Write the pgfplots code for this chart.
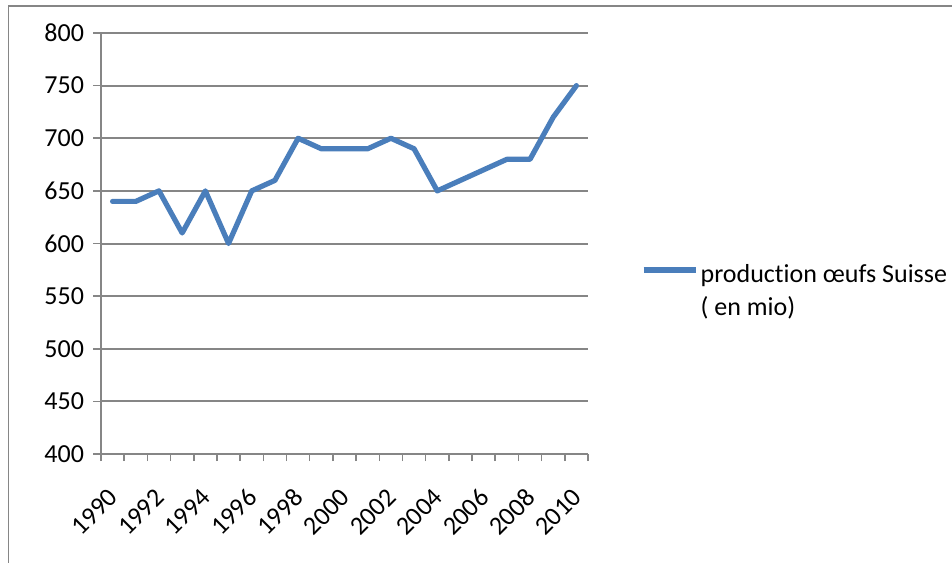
\documentclass[border=0pt]{standalone}
\usepackage{fontspec}
\setmainfont{Carlito}[Ligatures=NoCommon]
\usepackage{pgfplots}
\pgfplotsset{compat=1.18}
\definecolor{linebl}{HTML}{4A7EBB}
\definecolor{gridg}{HTML}{868686}
\begin{document}
\fontsize{13}{16.5}\selectfont
\begin{tikzpicture}
\path[use as bounding box] (0,0) rectangle (476pt,281pt);
\draw[gridg, line width=0.75pt] (4.25pt,-2pt) -- (4.25pt,278pt) -- (480pt,278pt);
\begin{axis}[
  at={(50.5pt,54pt)}, anchor=south west,
  scale only axis, width=243.5pt, height=210.5pt,
  xmin=1989.5, xmax=2010.5, ymin=400, ymax=800,
  axis x line=bottom, axis y line=left,
  axis line style={-, gridg, line width=1pt},
  ytick={400,450,...,800},
  xtick={1990,1992,...,2010},
  minor xtick={1989.5,1990.5,...,2010.5},
  ymajorgrids, grid style={gridg, line width=1pt},
  tick style={gridg, line width=0.75pt},
  major x tick style={draw=none},
  major tick length=4pt, minor tick length=3.5pt, tick align=outside,
  xticklabel style={xshift=3.5pt, yshift=-12.5pt, rotate=45, anchor=east},
  /pgf/number format/1000 sep={}, /pgf/number format/assume math mode=true,
  ticklabel style={font=\fontsize{13}{15}\selectfont, text=black},
  legend style={draw=none, fill=none, inner sep=0pt, at={(1.1078,0.385)}, anchor=west,
    nodes={inner sep=1.25pt},
    cells={align=left, anchor=west}, font=\fontsize{13}{16.5}\selectfont},
  legend image code/.code={\path[draw=none, fill=none] (0pt,-11pt) rectangle (26pt,11pt); \draw[#1, line cap=butt] (0pt,11pt) -- (26pt,11pt);},
  clip=false,
]
\addplot[linebl, line width=2.6pt, line join=round, line cap=round] coordinates {
(1990,640) (1991,640) (1992,650) (1993,610) (1994,650) (1995,600) (1996,650)
(1997,660) (1998,700) (1999,690) (2000,690) (2001,690) (2002,700) (2003,690)
(2004,650) (2005,660) (2006,670) (2007,680) (2008,680) (2009,720) (2010,750)
};
\addlegendentry{production œufs Suisse\\( en mio)}
\end{axis}
\end{tikzpicture}
\end{document}
